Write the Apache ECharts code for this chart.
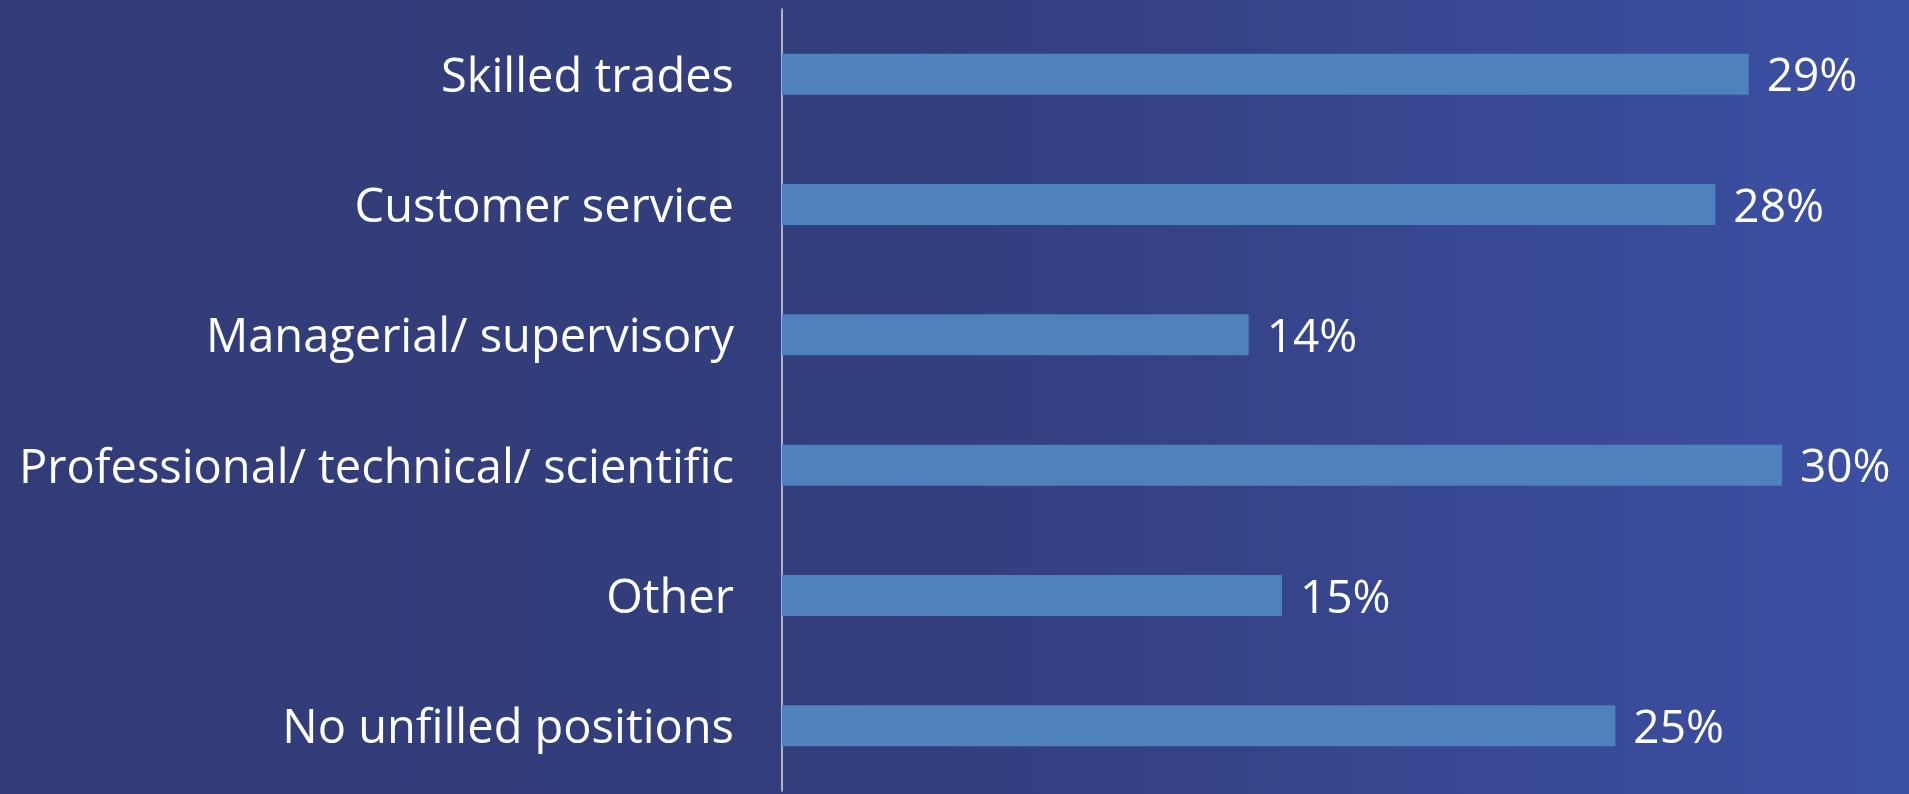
<!DOCTYPE html>
<html>
<head>
<meta charset="utf-8">
<script src="https://cdn.jsdelivr.net/npm/echarts@6/dist/echarts.min.js"></script>
<style>
  html, body { margin: 0; padding: 0; }
  #main { width: 1909px; height: 794px; }
</style>
</head>
<body>
<div id="main"></div>
<script>
// 类别和数值
const categories = [
  'Skilled trades',
  'Customer service',
  'Managerial/ supervisory',
  'Professional/ technical/ scientific',
  'Other',
  'No unfilled positions'
];
const values = [29, 28, 14, 30, 15, 25];

const chart = echarts.init(document.getElementById('main'));

const option = {
  backgroundColor: new echarts.graphic.LinearGradient(0, 0, 1, 0, [
    { offset: 0, color: '#323C77' },
    { offset: 0.5, color: '#333E7E' },
    { offset: 1, color: '#3C50A4' }
  ]),
  textStyle: { fontFamily: 'Open Sans' },
  grid: {
    left: 782,
    width: 1000,
    top: 9,
    height: 782
  },
  xAxis: {
    type: 'value',
    min: 0,
    max: 30,
    show: false
  },
  yAxis: {
    type: 'category',
    data: categories,
    inverse: true,
    axisLine: {
      show: true,
      lineStyle: { color: '#D9D9D9', width: 1.5 }
    },
    axisTick: { show: false },
    axisLabel: {
      color: '#fff',
      fontSize: 47,
      margin: 48,
      formatter: '{a|{value}}',
      rich: {
        a: { color: '#fff', fontSize: 47, fontFamily: 'Open Sans', padding: [8, 0, 0, 0] }
      }
    }
  },
  series: [
    {
      type: 'bar',
      data: values,
      barWidth: '31.5%',
      itemStyle: { color: '#4F81BD' },
      label: {
        show: true,
        position: 'right',
        distance: 18,
        offset: [0, 4],
        color: '#fff',
        fontSize: 46,
        formatter: '{c}%'
      }
    }
  ]
};

chart.setOption(option);
</script>
</body>
</html>
